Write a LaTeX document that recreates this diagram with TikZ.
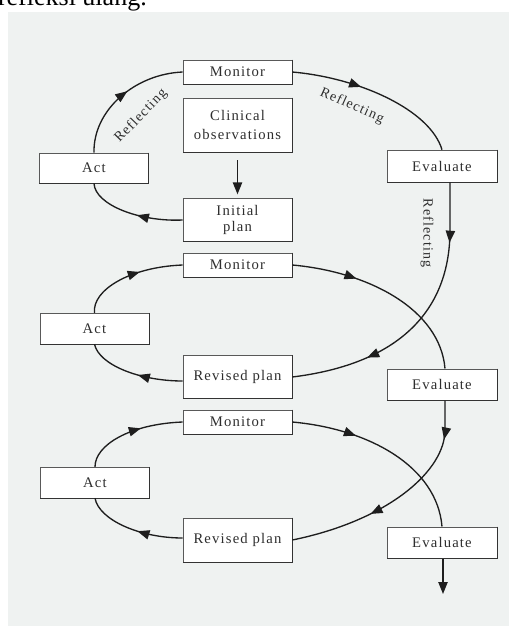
\documentclass[tikz,border=0pt]{standalone}
\usepackage{fontspec}
\setmainfont{Liberation Serif}
\newfontfamily\boxfont[LetterSpace=8]{Liberation Serif}
\usetikzlibrary{arrows.meta,decorations.markings,calc}
\definecolor{bg}{HTML}{EFF2F1}
\definecolor{ink}{HTML}{1E1E1E}
\definecolor{txt}{HTML}{2E2E2E}
\begin{document}
\begin{tikzpicture}[x=0.75pt,y=-0.75pt,
 box/.style={draw=black!65, line width=0.5pt, fill=white, inner sep=0pt,
   minimum width=81.75pt, font=\boxfont\fontsize{11}{13}\selectfont, text=txt, align=center},
 conn/.style={draw=ink, line width=1pt},
 tip/.style={-{Triangle[length=9pt,width=7pt]}},
 midarr/.style={postaction={decorate,decoration={markings,
   mark=at position #1 with {\arrow{Triangle[length=9pt,width=7pt]}}}}},
 lbl/.style={font=\boxfont\fontsize{10.5}{12}\selectfont, text=txt, inner sep=0pt}]

\useasboundingbox (0,0) rectangle (509,626);
\fill[bg] (8,12) rectangle (509,626);
\node[anchor=base east, font=\fontsize{19.5}{20}\selectfont, inner sep=0pt] (top) at (147,5) {refleksi ulang.};

% boxes
\node[box, minimum height=18pt] (m1) at (237.5,72) {Monitor};
\node[box, minimum height=40.5pt, font=\boxfont\fontsize{11}{14.5}\selectfont] (co) at (237.5,125) {Clinical\\observations};
\node[box, minimum height=32pt, font=\boxfont\fontsize{11}{12}\selectfont] (ip) at (237.5,220) {Initial\\plan};
\node[box, minimum height=18pt] (m2) at (237.5,265) {Monitor};
\node[box, minimum height=32pt] (rp1) at (237.5,377) {Revised plan};
\node[box, minimum height=18pt] (m3) at (237.5,422) {Monitor};
\node[box, minimum height=33pt] (rp2) at (237.5,540) {Revised plan};
\node[box, minimum height=22.5pt] (a1) at (94,168) {Act};
\node[box, minimum height=23pt] (a2) at (94.5,328.5) {Act};
\node[box, minimum height=23pt] (a3) at (95,482.5) {Act};
\node[box, minimum width=82.5pt, minimum height=24pt] (e1) at (442,166) {Evaluate};
\node[box, minimum width=82.5pt, minimum height=23.5pt] (e2) at (442,384.5) {Evaluate};
\node[box, minimum width=82.5pt, minimum height=23.5pt] (e3) at (442,542.5) {Evaluate};
\foreach \n in {m1,co,ip,m2,rp1,m3,rp2,a1,a2,a3,e1,e2,e3}
  \draw[black!80, line width=0.9pt] (\n.north east) -- (\n.south east) -- (\n.south west);

% cycle 1
\draw[conn, midarr=0.55] (a1.north) .. controls (93,110) and (135,74) .. (m1.west);
\draw[conn, midarr=0.4] (m1.east) .. controls (360,78) and (430,110) .. (e1.north);
\draw[conn, midarr=0.45] (ip.west) .. controls (140,222) and (95,205) .. (a1.south);
\draw[conn, tip] ($(co.south)+(0,8)$) -- ($(ip.north)+(0,-4)$);
\draw[conn, midarr=0.21, midarr=0.73] ($(e1.south)+(8,0)$) -- (450,230)
   .. controls (450,318) and (390,365) .. (rp1.east);

% cycle 2
\draw[conn, midarr=0.6] (a2.north) .. controls (92,290) and (130,267) .. (m2.west);
\draw[conn, midarr=0.33] (m2.east) .. controls (370,272) and (440,310) .. ($(e2.north)+(3,0)$);
\draw[conn, midarr=0.45] ($(rp1.west)+(0,4)$) .. controls (140,381) and (99,365) .. (a2.south);
\draw[conn, midarr=0.17, midarr=0.64] ($(e2.south)+(3,0)$) -- (445,430)
   .. controls (445,470) and (390,520) .. (rp2.east);

% cycle 3
\draw[conn, midarr=0.6] (a3.north) .. controls (95,445) and (130,424) .. (m3.west);
\draw[conn, midarr=0.33] (m3.east) .. controls (370,429) and (437,467) .. (e3.north);
\draw[conn, midarr=0.45] ($(rp2.west)+(0,-2)$) .. controls (140,538) and (99,520) .. (a3.south);
\coordinate (out) at (443,594);
\draw[conn, tip] ($(e3.south)+(1,0)$) -- (out);

% labels
\node[lbl, rotate=46] (r1) at (141,116) {Reflecting};
\node[lbl, rotate=-24] (r2) at (352,106) {Reflecting};
\node[lbl, rotate=-90] (r3) at (427,233) {Reflecting};
\end{tikzpicture}
\end{document}
